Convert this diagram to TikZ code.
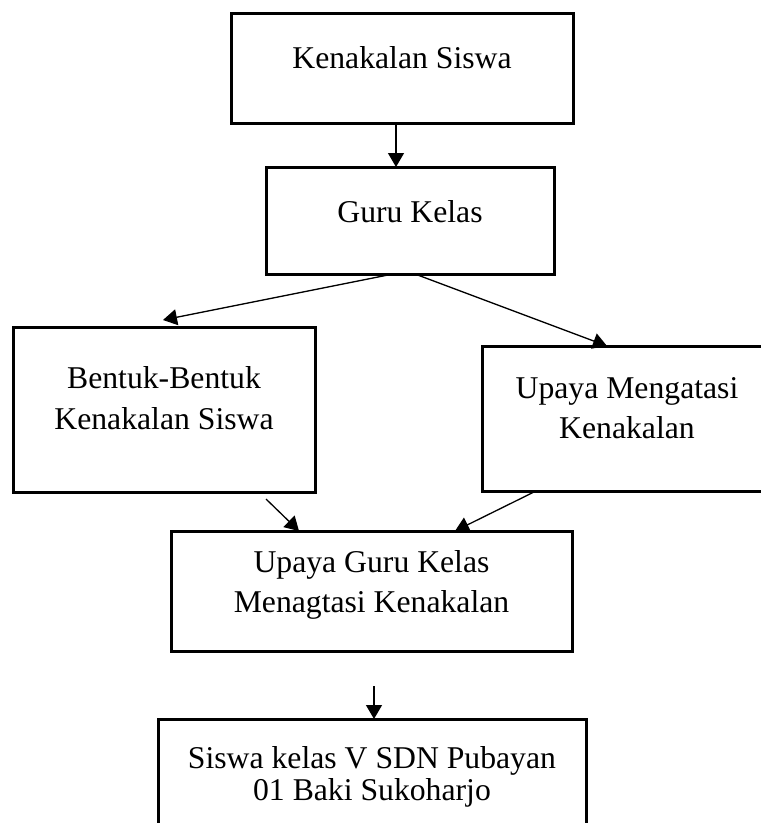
\documentclass[tikz,border=0pt]{standalone}
\usepackage{fontspec}
\setmainfont{Liberation Serif}
\usetikzlibrary{arrows.meta}

\begin{document}
\begin{tikzpicture}[x=1pt,y=-1pt,
    kotak/.style={draw, line width=3pt, inner sep=0pt, outer sep=0pt},
    tulisan/.style={anchor=base, align=center, inner sep=0pt, font=\fontsize{31.7}{40}\selectfont},
    panah/.style={line width=1.3pt, -{Triangle[length=14pt,width=16pt]}}]

  \clip (0,0) rectangle (761,823);

    \node[kotak, minimum width=342pt, minimum height=110pt] (b1) at (402.0,68.0) {};
  \node[tulisan] (t1) at ([yshift=-55pt]b1.north) {Kenakalan Siswa};
    \node[kotak, minimum width=288pt, minimum height=107pt] (b2) at (410.0,220.5) {};
  \node[tulisan] (t2) at ([yshift=-55pt]b2.north) {Guru Kelas};

    \node[kotak, minimum width=302pt, minimum height=165pt] (b3) at (164.0,409.5) {};
  \node[tulisan, font=\fontsize{31.7}{41}\selectfont] (t3) at ([yshift=-102pt]b3.north) {Bentuk-Bentuk\\Kenakalan Siswa};
    \node[kotak, minimum width=290pt, minimum height=145pt] (b4) at (627.0,418.5) {};
  \node[tulisan] (t4) at ([yshift=-92pt]b4.north) {Upaya Mengatasi\\Kenakalan};

    \node[kotak, minimum width=401pt, minimum height=120pt] (b5) at (371.5,591.0) {};
  \node[tulisan] (t5) at ([yshift=-81pt]b5.north) {Upaya Guru Kelas\\Menagtasi Kenakalan};
    \node[kotak, minimum width=428pt, minimum height=116pt] (b6) at (372.0,777.0) {};
  \node[tulisan, font=\fontsize{31.7}{32}\selectfont] (t6) at ([yshift=-81pt]b6.north) {Siswa kelas V SDN Pubayan\\01 Baki Sukoharjo};

  \draw[panah] ([xshift=-6pt]b1.south) -- ([xshift=-14pt]b2.north);
  \draw[panah] ([xshift=-17pt]b2.south) -- ([shift={(-1pt,7pt)}]b3.north);
  \draw[panah] ([xshift=5pt]b2.south) -- ([xshift=-20pt]b4.north);
  \draw[panah] ([shift={(102pt,-7pt)}]b3.south) -- ([xshift=-72.5pt]b5.north);
  \draw[panah] ([xshift=-91pt]b4.south) -- ([xshift=83.5pt]b5.north);
  \draw[panah] ([shift={(2.5pt,-35pt)}]b5.south) -- ([xshift=2pt]b6.north);

\end{tikzpicture}
\end{document}
